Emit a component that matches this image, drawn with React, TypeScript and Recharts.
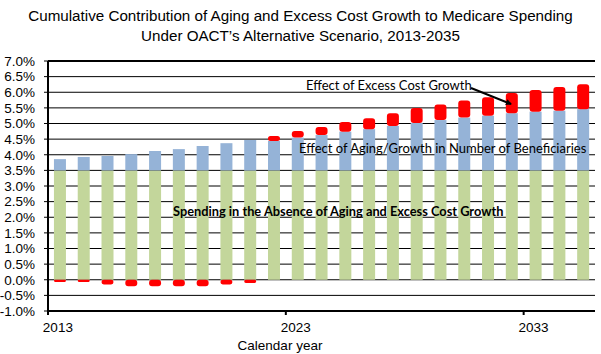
import React from "react";
import { Bar, BarChart, CartesianGrid, XAxis, YAxis } from "recharts";

const years = [
  2013, 2014, 2015, 2016, 2017, 2018, 2019, 2020, 2021, 2022, 2023, 2024,
  2025, 2026, 2027, 2028, 2029, 2030, 2031, 2032, 2033, 2034, 2035,
];

// contributions in percent
const baseSpending = [
  3.5, 3.5, 3.5, 3.5, 3.5, 3.5, 3.5, 3.5, 3.5, 3.5, 3.5, 3.5,
  3.5, 3.5, 3.5, 3.5, 3.5, 3.5, 3.5, 3.5, 3.5, 3.5, 3.5,
];
const agingEffect = [
  0.36, 0.43, 0.46, 0.52, 0.62, 0.68, 0.78, 0.87, 0.97, 0.94, 1.05, 1.13,
  1.24, 1.32, 1.42, 1.52, 1.61, 1.69, 1.75, 1.83, 1.88, 1.91, 1.96,
];
const excessCostEffect = [
  -0.07, -0.07, -0.15, -0.21, -0.21, -0.21, -0.21, -0.15, -0.1, 0.16, 0.21, 0.26,
  0.31, 0.35, 0.41, 0.48, 0.5, 0.55, 0.59, 0.65, 0.69, 0.76, 0.8,
];

const yTicks = [-1, -0.5, 0, 0.5, 1, 1.5, 2, 2.5, 3, 3.5, 4, 4.5, 5, 5.5, 6, 6.5, 7];

const data = years.map((year, i) => ({
  year,
  base: baseSpending[i],
  aging: agingEffect[i],
  excess: excessCostEffect[i],
}));

const FONT = '"Liberation Sans", Arial, sans-serif';
const NOTE_FONT = 'Lato, "Open Sans", sans-serif';

// tick mark sits on the category boundary, label near the bar centre
function YearTick(props: any) {
  const { x, y, payload } = props;
  const edge = x - (payload.offset || 0);
  return (
    <g>
      <line x1={edge} y1={y - 8} x2={edge} y2={y - 4} stroke="#000" strokeWidth={2} />
      <text x={x - 2} y={y + 13} textAnchor="middle" fontSize={13.5} fontFamily={FONT} fill="#000">
        {payload.value}
      </text>
    </g>
  );
}

export default function App() {
  return (
    <div style={{ position: "absolute", left: 0, top: 0, width: 601, height: 354, background: "#fff" }}>
      <div
        style={{
          position: "absolute",
          left: 0,
          top: 6,
          width: 601,
          textAlign: "center",
          fontFamily: FONT,
          fontSize: 15.2,
          lineHeight: "20px",
          color: "#000",
        }}
      >
        Cumulative Contribution of Aging and Excess Cost Growth to Medicare Spending
        <br />
        Under OACT’s Alternative Scenario, 2013-2035
      </div>
      <BarChart
        width={601}
        height={354}
        data={data}
        stackOffset="sign"
        barCategoryGap="25%"
        margin={{ top: 61, right: 6, left: 0, bottom: 0 }}
      >
        <CartesianGrid vertical={false} stroke="#000" strokeWidth={1} />
        <XAxis
          dataKey="year"
          interval={9}
          height={43}
          tickLine={false}
          axisLine={{ stroke: "#000", strokeWidth: 2 }}
          tick={<YearTick />}
        />
        <YAxis
          domain={[-1, 7]}
          ticks={yTicks}
          interval={0}
          width={48}
          tickSize={4}
          tickMargin={9}
          tickLine={{ stroke: "#000" }}
          axisLine={{ stroke: "#000", strokeWidth: 2 }}
          tickFormatter={(v: number) => `${v.toFixed(1)}%`}
          tick={{ fill: "#000", fontSize: 13.5, fontFamily: FONT }}
        />
        <YAxis
          yAxisId="frame"
          orientation="right"
          width={0}
          domain={[-1, 7]}
          tick={false}
          tickLine={false}
          axisLine={{ stroke: "#000", strokeWidth: 2 }}
        />
        <Bar dataKey="base" stackId="a" fill="#C3D69B" isAnimationActive={false} />
        <Bar dataKey="aging" stackId="a" fill="#95B3D7" isAnimationActive={false} />
        <Bar dataKey="excess" stackId="a" fill="#FF0000" radius={[3, 3, 3, 3]} isAnimationActive={false} />
      </BarChart>
      <svg
        width={601}
        height={354}
        style={{ position: "absolute", left: 0, top: 0, pointerEvents: "none" }}
      >
        <defs>
          <marker id="arrowHead" markerWidth="6" markerHeight="6" refX="5" refY="3" orient="auto" markerUnits="userSpaceOnUse">
            <path d="M0,0 L6,3 L0,6 z" fill="#000" />
          </marker>
        </defs>
        <line x1={48} y1={61} x2={595} y2={61} stroke="#000" strokeWidth={2} />
        <text x={306} y={90} fontSize={13} fontFamily={NOTE_FONT} fill="#000">
          Effect of Excess Cost Growth
        </text>
        <line x1={471} y1={88} x2={511} y2={104} stroke="#000" strokeWidth={2} markerEnd="url(#arrowHead)" />
        <text x={299} y={153} fontSize={13} fontFamily={NOTE_FONT} fill="#000">
          Effect of Aging/Growth in Number of Beneficiaries
        </text>
        <text x={173} y={216} fontSize={12.8} fontWeight="bold" fontFamily={NOTE_FONT} fill="#000">
          Spending in the Absence of Aging and Excess Cost Growth
        </text>
        <text x={280} y={350} textAnchor="middle" fontSize={13.5} fontFamily={FONT} fill="#000">
          Calendar year
        </text>
      </svg>
    </div>
  );
}
